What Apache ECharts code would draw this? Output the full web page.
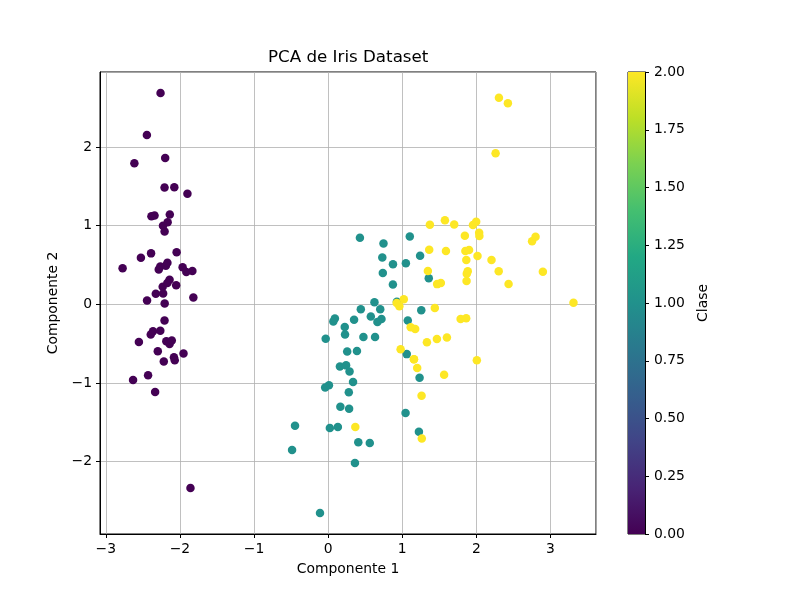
<!DOCTYPE html>
<html>
<head>
<meta charset="utf-8">
<script src="https://cdn.jsdelivr.net/npm/echarts@6/dist/echarts.min.js"></script>
<style>html,body{margin:0;padding:0;background:#fff}#c{width:800px;height:600px}</style>
</head>
<body>
<div id="c"></div>
<script>
const titleText = 'PCA de Iris Dataset';
const xName = 'Componente 1';
const yName = 'Componente 2';
const cbName = 'Clase';
const pc1 = [
-2.265,-2.081,-2.364,-2.299,-2.390,-2.076,-2.444,-2.233,-2.335,-2.184,
-2.166,-2.326,-2.218,-2.633,-2.199,-2.262,-2.208,-2.190,-1.899,-2.343,
-1.914,-2.207,-2.774,-1.819,-2.227,-1.952,-2.051,-2.169,-2.140,-2.265,
-2.140,-1.832,-2.615,-2.446,-2.110,-2.208,-2.045,-2.527,-2.430,-2.170,
-2.286,-1.858,-2.554,-1.964,-2.137,-2.070,-2.385,-2.394,-2.229,-2.206,
1.102,0.731,1.241,0.407,1.075,0.389,0.747,-0.487,0.928,0.011,
-0.110,0.441,0.562,0.720,-0.033,0.875,0.350,0.159,1.225,0.165,
0.738,0.476,1.234,0.633,0.703,0.874,1.257,1.358,0.665,-0.040,
0.131,0.023,0.242,1.061,0.224,0.429,1.049,1.045,0.070,0.283,
0.279,0.625,0.336,0.362,0.289,0.091,0.228,0.576,-0.447,0.257,
1.845,1.158,2.205,1.440,1.868,2.752,0.367,2.302,2.007,2.260,
1.364,1.603,1.884,1.261,1.468,1.590,1.471,2.426,3.311,1.264,
2.038,0.978,2.898,1.333,1.701,1.954,1.175,1.021,1.788,1.865,
2.435,2.305,1.863,1.114,1.202,2.799,1.576,1.346,0.925,1.852,
2.016,1.902,1.158,2.041,1.998,1.871,1.565,1.521,1.373,0.961
];
const pc2 = [
0.480,-0.674,-0.342,-0.597,0.647,1.489,0.048,0.223,-1.115,-0.469,
1.044,0.133,-0.729,-0.962,1.860,2.686,1.484,0.489,1.405,1.128,
0.409,0.924,0.458,0.086,0.137,-0.626,0.242,0.527,0.313,-0.338,
-0.505,0.424,1.794,2.151,-0.460,-0.206,0.662,0.592,-0.904,0.269,
0.442,-2.337,-0.479,0.472,1.142,-0.711,1.120,-0.386,0.998,0.009,
0.863,0.595,0.616,-1.754,-0.208,-0.593,0.773,-1.852,0.032,-1.030,
-2.654,-0.064,-1.765,-0.186,-0.439,0.509,-0.196,-0.792,-1.622,-1.303,
0.397,-0.417,-0.933,-0.416,-0.063,0.251,-0.077,0.331,-0.226,-1.059,
-1.562,-1.572,-0.777,-0.634,-0.288,0.846,0.522,-1.383,-0.220,-1.329,
-1.120,0.025,-0.988,-2.019,-0.856,-0.181,-0.385,-0.155,-1.544,-0.600,
0.870,-0.699,0.562,-0.047,0.295,0.800,-1.562,0.420,-0.711,1.921,
0.693,-0.422,0.419,-1.162,-0.443,0.676,0.256,2.557,0.018,-1.707,
0.910,-0.572,0.414,-0.482,1.014,1.008,-0.316,0.064,-0.187,0.562,
0.259,2.626,-0.179,-0.293,-0.811,0.857,1.069,0.422,0.017,0.676,
0.614,0.690,-0.699,0.868,1.049,0.387,-0.897,0.269,1.011,-0.024
];
const clase = [
0,0,0,0,0,0,0,0,0,0,0,0,0,0,0,0,0,0,0,0,0,0,0,0,0,
0,0,0,0,0,0,0,0,0,0,0,0,0,0,0,0,0,0,0,0,0,0,0,0,0,
1,1,1,1,1,1,1,1,1,1,1,1,1,1,1,1,1,1,1,1,1,1,1,1,1,
1,1,1,1,1,1,1,1,1,1,1,1,1,1,1,1,1,1,1,1,1,1,1,1,1,
2,2,2,2,2,2,2,2,2,2,2,2,2,2,2,2,2,2,2,2,2,2,2,2,2,
2,2,2,2,2,2,2,2,2,2,2,2,2,2,2,2,2,2,2,2,2,2,2,2,2
];
const viridis = ['#440154','#482475','#414487','#355f8d','#2a788e','#21918c','#22a884','#44bf70','#7ad151','#bddf26','#fde725'];
const cbMin = 0, cbMax = 2, cbStep = 0.25;

const points = pc1.map((v, i) => [v, pc2[i], clase[i]]);
const font = 'DejaVu Sans';
const minus = v => String(v).replace('-', '\u2212');
const xMin = -3.079, xMax = 3.615, yMin = -2.921, yMax = 2.953;

const chart = echarts.init(document.getElementById('c'), null, {renderer: 'canvas'});
chart.setOption({
  animation: false,
  backgroundColor: '#fff',
  title: {text: titleText, left: 268, top: 49, padding: 0,
    textStyle: {fontFamily: font, fontSize: 16.7, fontWeight: 'normal', color: '#000'}},
  grid: [
    {left: 100, top: 72, width: 496, height: 462, show: true, borderColor: '#000', borderWidth: 1, backgroundColor: 'transparent'},
    {left: 628, top: 72, width: 17, height: 462, show: true, borderColor: '#000', borderWidth: 1}
  ],
  xAxis: [
    {type: 'value', gridIndex: 0, min: xMin, max: xMax, splitNumber: 5,
      name: xName, nameLocation: 'middle', nameGap: 28,
      nameTextStyle: {fontFamily: font, fontSize: 13.9, color: '#000'},
      axisLine: {show: true, onZero: false, lineStyle: {color: '#000', width: 1}},
      axisTick: {show: true, length: 4, lineStyle: {color: '#000'}},
      axisLabel: {showMinLabel: false, showMaxLabel: false, fontFamily: font, fontSize: 13.9, color: '#000', margin: 8, formatter: minus},
      splitLine: {show: true, lineStyle: {color: '#b0b0b0', width: 0.8}}},
    {type: 'category', gridIndex: 1, data: [''], show: false, boundaryGap: true}
  ],
  yAxis: [
    {type: 'value', gridIndex: 0, min: yMin, max: yMax, splitNumber: 5,
      name: yName, nameLocation: 'middle', nameGap: 36, nameRotate: 90,
      nameTextStyle: {fontFamily: font, fontSize: 13.9, color: '#000'},
      axisLine: {show: true, onZero: false, lineStyle: {color: '#000', width: 1}},
      axisTick: {show: true, length: 4, lineStyle: {color: '#000'}},
      axisLabel: {showMinLabel: false, showMaxLabel: false, fontFamily: font, fontSize: 13.9, color: '#000', margin: 8, formatter: minus},
      splitLine: {show: true, lineStyle: {color: '#b0b0b0', width: 0.8}}},
    {type: 'value', gridIndex: 1, position: 'right', min: cbMin, max: cbMax, interval: cbStep,
      name: cbName, nameLocation: 'middle', nameGap: 51, nameRotate: 90,
      nameTextStyle: {fontFamily: font, fontSize: 13.9, color: '#000'},
      axisLine: {show: true, lineStyle: {color: '#000', width: 1}},
      axisTick: {show: true, length: 4, inside: false, lineStyle: {color: '#000'}},
      axisLabel: {fontFamily: font, fontSize: 13.9, color: '#000', margin: 9, formatter: v => v.toFixed(2)},
      splitLine: {show: false}}
  ],
  visualMap: {show: false, type: 'continuous', seriesIndex: 0, dimension: 2, min: cbMin, max: cbMax, inRange: {color: viridis}},
  series: [
    {type: 'scatter', xAxisIndex: 0, yAxisIndex: 0, data: points, symbolSize: 8.5,
      itemStyle: {opacity: 1}},
    {type: 'bar', xAxisIndex: 1, yAxisIndex: 1, data: [cbMax], barWidth: '100%', silent: true,
      itemStyle: {color: new echarts.graphic.LinearGradient(0, 1, 0, 0,
        viridis.map((c, i) => ({offset: i / (viridis.length - 1), color: c})))}}
  ]
});
</script>
</body>
</html>
